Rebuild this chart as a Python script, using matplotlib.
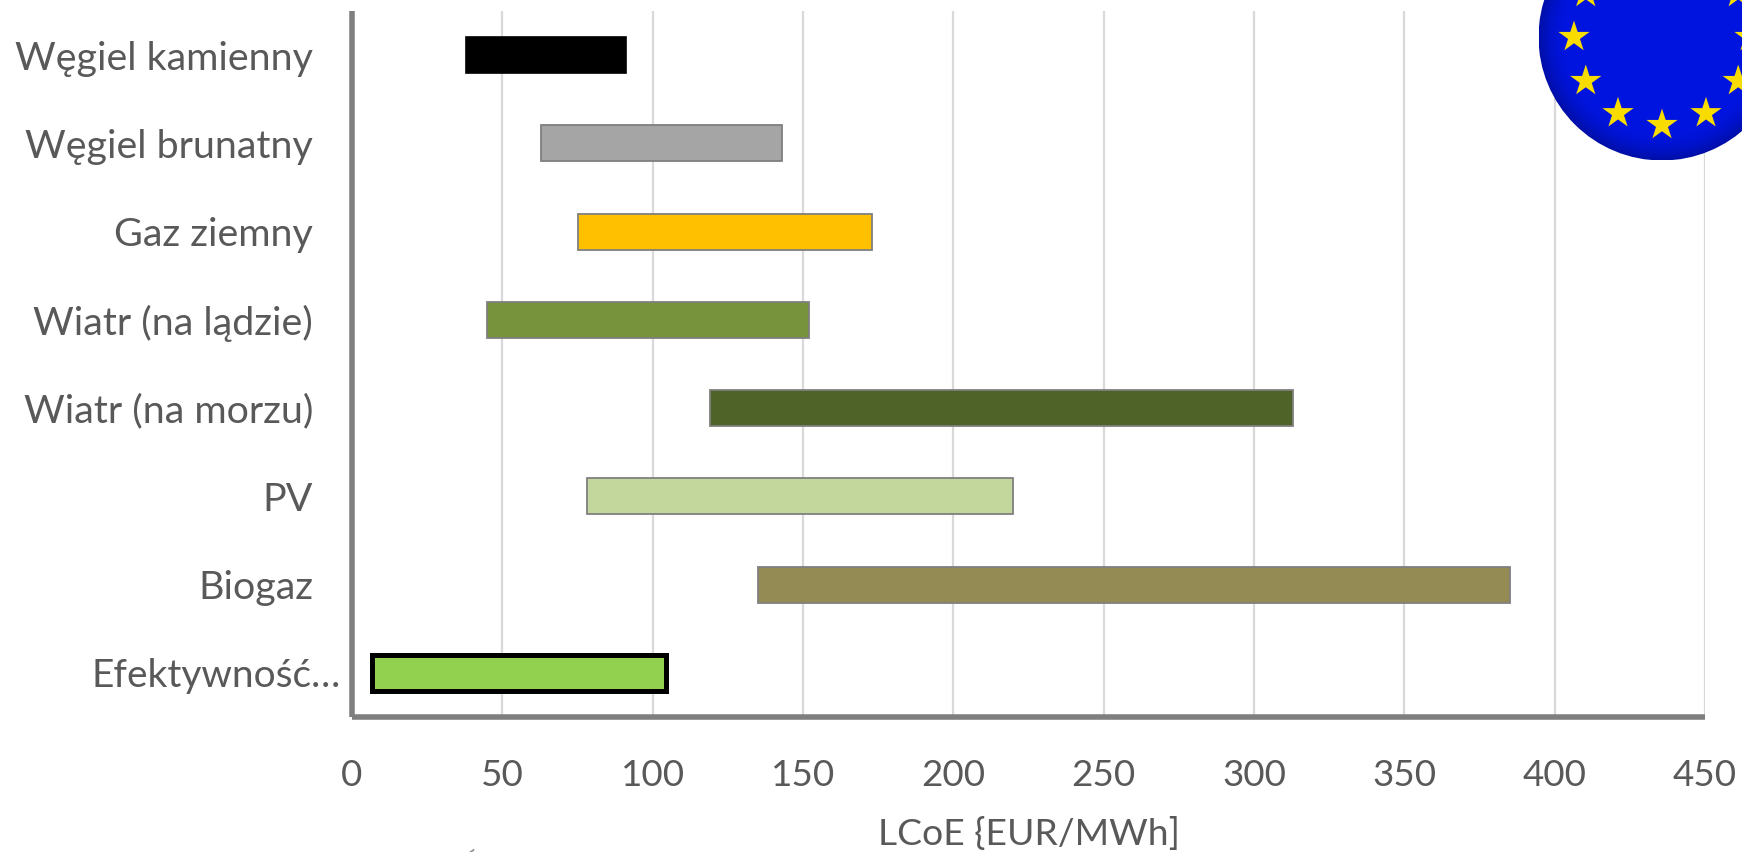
"""
LCoE ranges by generation source, floating bars with the EU disc in the corner.
"""
import numpy as np
import matplotlib
matplotlib.use('Agg')
import matplotlib.pyplot as plt
from matplotlib.patches import Circle

# ---------- Data ----------
sources = ['Węgiel kamienny', 'Węgiel brunatny', 'Gaz ziemny', 'Wiatr (na lądzie)',
           'Wiatr (na morzu)', 'PV', 'Biogaz', 'Efektywność…']
lcoe_low = [38, 63, 75, 45, 119, 78, 135, 6.5]
lcoe_high = [91, 143, 173, 152, 313, 220, 385, 104.5]
bar_colors = ['#000000', '#a5a5a5', '#ffc000', '#77933c',
              '#4f6228', '#c3d69b', '#948a54', '#92d050']
edge_colors = ['#000000', '#7f7f7f', '#7f7f7f', '#7f7f7f',
               '#7f7f7f', '#7f7f7f', '#7f7f7f', '#000000']
edge_widths = [1.2, 1.3, 1.3, 1.3, 1.3, 1.3, 1.3, 3.6]
x_ticks = [0, 50, 100, 150, 200, 250, 300, 350, 400, 450]

W, H = 1742, 852
TEXT = '#595959'
plt.rcParams['font.family'] = ['Lato', 'DejaVu Sans']

fig = plt.figure(figsize=(W / 100, H / 100), dpi=100, facecolor='white')
ax = fig.add_axes([352 / W, 1 - 717 / H, (1705 - 352) / W, (717 - 11) / H])

# ---------- Bars ----------
widths = [hi - lo for lo, hi in zip(lcoe_low, lcoe_high)]
ax.barh(range(len(sources)), widths, left=lcoe_low, height=0.41,
        color=bar_colors, edgecolor=edge_colors, linewidth=edge_widths, zorder=3)

ax.set_xlim(0, 450)
ax.set_ylim(len(sources) - 0.5, -0.5)
ax.set_xticks(x_ticks)
ax.set_yticks(range(len(sources)))
ax.set_yticklabels(sources)
ax.tick_params(axis='x', length=0, labelsize=26.5, labelcolor=TEXT, pad=30.5)
ax.tick_params(axis='y', length=0, labelsize=28.4, labelcolor=TEXT, pad=28)
# the truncated last label sits closer to the axis than the others
ax.yaxis.get_major_ticks()[-1].set_pad(8)
ax.yaxis.get_ticklabels()[-1].set_fontsize(28)
ax.set_xlabel('LCoE {EUR/MWh]', fontsize=26.8, color=TEXT, labelpad=18)
ax.grid(axis='x', color='#d9d9d9', linewidth=1.6, zorder=0)

for side in ['top', 'right']:
    ax.spines[side].set_visible(False)
for side in ['left', 'bottom']:
    ax.spines[side].set_color('#7f7f7f')
    ax.spines[side].set_linewidth(4)
    ax.spines[side].set_capstyle('butt')

# ---------- EU disc, drawn in pixel coordinates ----------
over = fig.add_axes([0, 0, 1, 1], facecolor='none')
over.axis('off')

cx, cy, r = 1662, 37, 123.5
yy, xx = np.mgrid[-1:1:300j, -1:1:300j]
rad = np.clip(np.hypot(xx, yy), 0, 1)
shade = 1 - 0.25 * np.clip((rad - 0.75) / 0.25, 0, 1) ** 2
disc = np.dstack([np.zeros_like(shade), 0.08 * shade, 0.88 * shade])
im = over.imshow(disc, extent=(cx - r, cx + r, cy + r, cy - r), zorder=5)
im.set_clip_path(Circle((cx, cy), r, transform=over.transData))
over.set_xlim(0, W)
over.set_ylim(H, 0)

angles = np.deg2rad(np.arange(0, 360, 30))
over.scatter(cx + 88 * np.cos(angles), cy + 88 * np.sin(angles), marker='*', s=560,
             c='#f8dc00', edgecolor='none', zorder=6)

# speck left at the bottom edge
over.plot([470.5, 473.5], [852, 850], color='#8c8c8c', linewidth=1.2)
over.set_xlim(0, W)
over.set_ylim(H, 0)

fig.savefig('out.png', dpi=100, facecolor='white')
plt.close()
